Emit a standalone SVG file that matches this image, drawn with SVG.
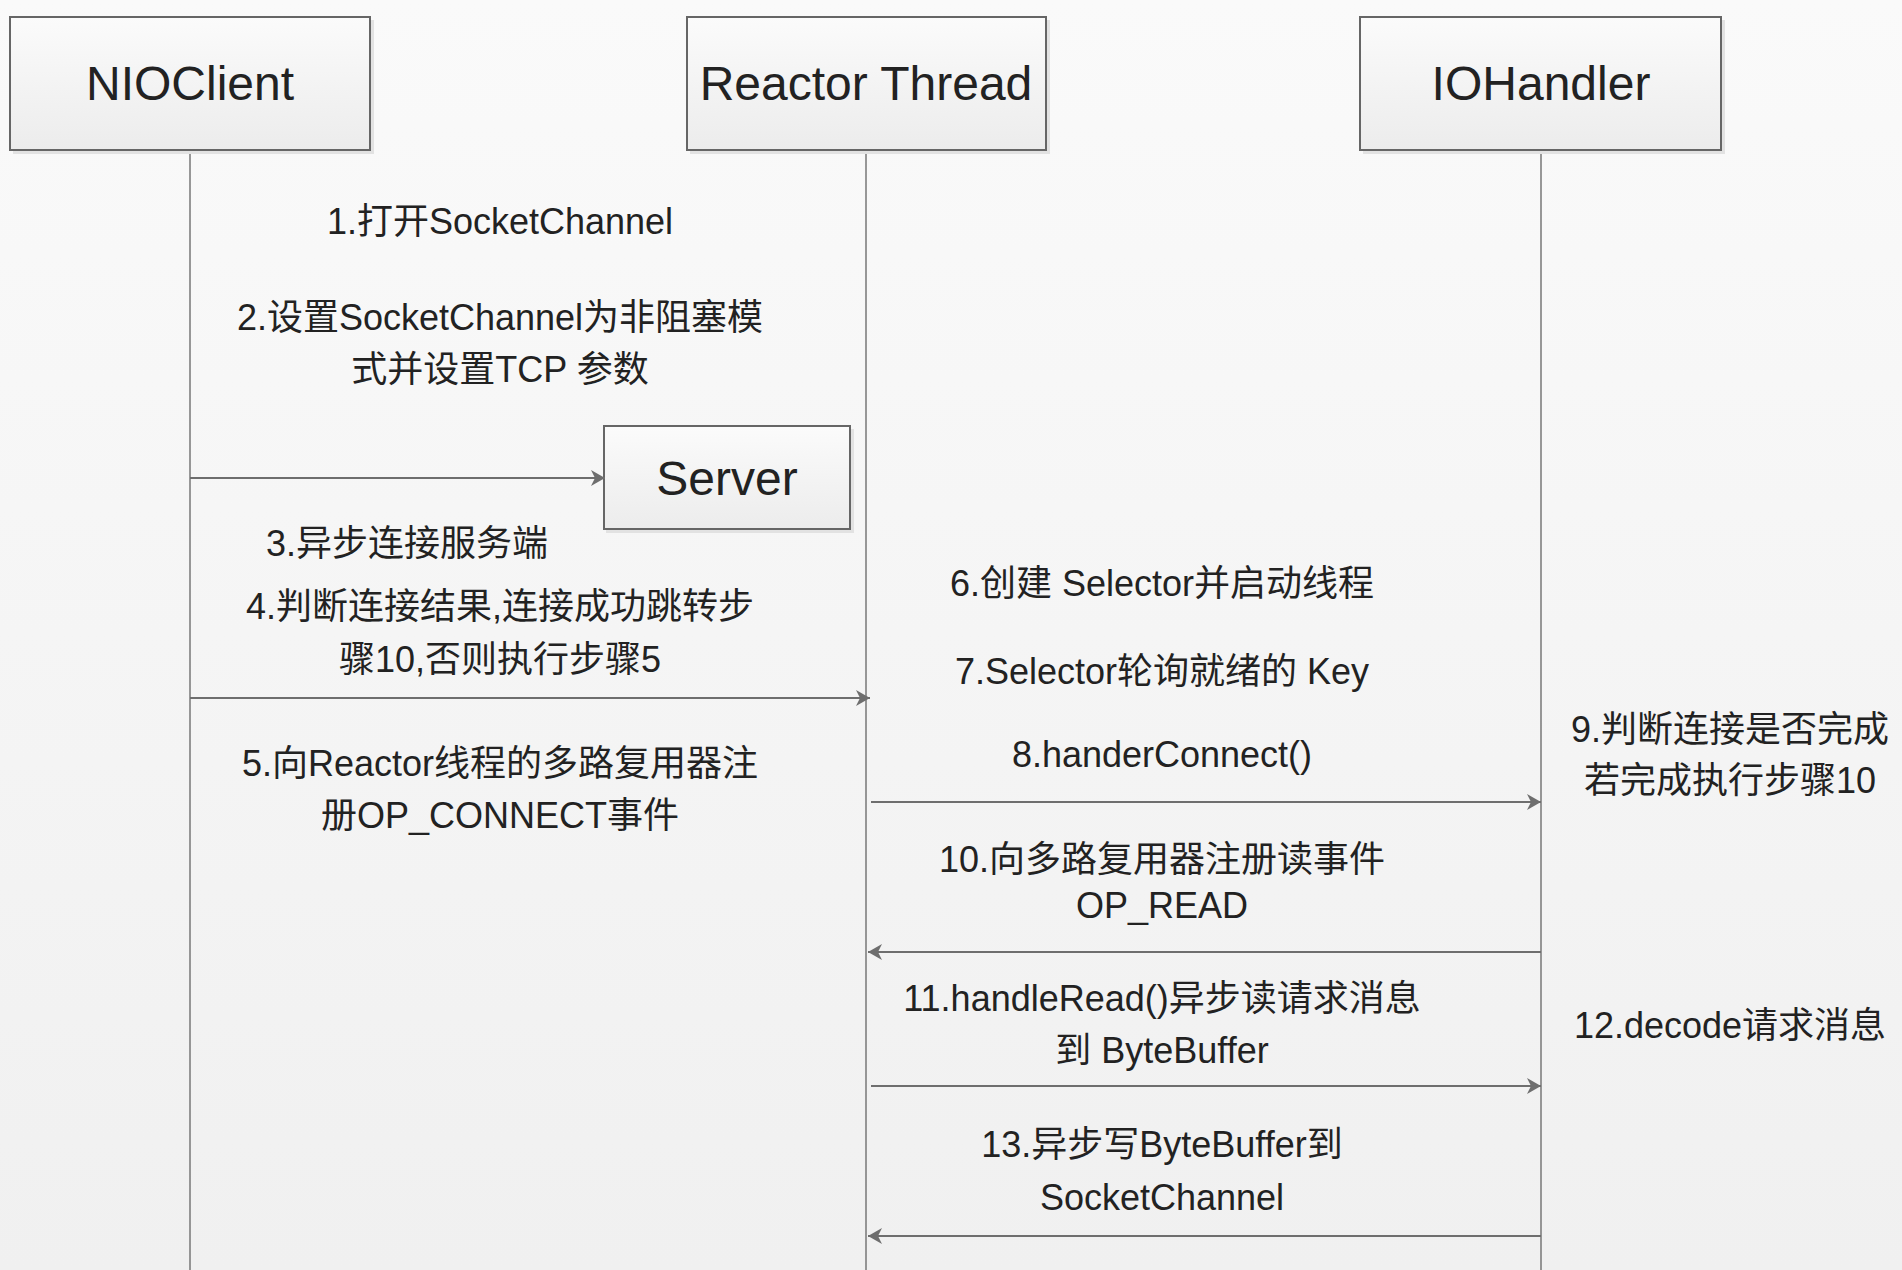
<svg xmlns="http://www.w3.org/2000/svg" width="1902" height="1270" viewBox="0 0 1902 1270">
<defs>
<linearGradient id="bg" x1="0" y1="0" x2="0" y2="1">
<stop offset="0" stop-color="#fafafa"/>
<stop offset="1" stop-color="#f0f0f0"/>
</linearGradient>
<linearGradient id="boxfill" x1="0" y1="0" x2="0" y2="1">
<stop offset="0" stop-color="#fbfbfb"/>
<stop offset="1" stop-color="#ececec"/>
</linearGradient>
<marker id="arr" markerUnits="userSpaceOnUse" markerWidth="16" markerHeight="18" refX="14" refY="9" orient="auto">
<path d="M0,1 L14,9 L0,17 L4,9 Z" fill="#6e6e6e"/>
</marker>
<style>
.box{fill:url(#boxfill);stroke:#666;stroke-width:2}
.shadow{fill:#e2e2e2}
.life{stroke:#777;stroke-width:1.5;fill:none}
.msg{stroke:#6e6e6e;stroke-width:2.2;fill:none;marker-end:url(#arr)}
.hd{font-family:"Liberation Sans",Arial,sans-serif;font-size:48px;fill:#222;text-anchor:middle}
.lb{font-family:"Liberation Sans",Arial,"Noto Sans CJK SC",sans-serif;font-size:36px;fill:#222;text-anchor:middle}
.lbl{font-family:"Liberation Sans",Arial,"Noto Sans CJK SC",sans-serif;font-size:36px;fill:#222;text-anchor:start}
</style>
</defs>
<rect x="0" y="0" width="1902" height="1270" fill="url(#bg)"/>

<g id="lifelines">
<line class="life" x1="190" y1="150" x2="190" y2="1270"/>
<line class="life" x1="866" y1="150" x2="866" y2="1270"/>
<line class="life" x1="1541" y1="150" x2="1541" y2="1270"/>
</g>

<g id="node-nioclient">
<rect class="shadow" x="13" y="20" width="361" height="134"/>
<rect class="box" x="10" y="17" width="360" height="133"/>
<text class="hd" x="190" y="100">NIOClient</text>
</g>
<g id="node-reactor">
<rect class="shadow" x="690" y="20" width="360" height="134"/>
<rect class="box" x="687" y="17" width="359" height="133"/>
<text class="hd" x="866" y="100">Reactor Thread</text>
</g>
<g id="node-iohandler">
<rect class="shadow" x="1363" y="20" width="362" height="134"/>
<rect class="box" x="1360" y="17" width="361" height="133"/>
<text class="hd" x="1541" y="100">IOHandler</text>
</g>
<g id="node-server">
<rect class="shadow" x="606" y="429" width="248" height="104"/>
<rect class="box" x="604" y="426" width="246" height="103"/>
<text class="hd" x="727" y="495">Server</text>
</g>

<g id="connectors">
<line class="msg" x1="190" y1="478" x2="605" y2="478"/>
<line class="msg" x1="190" y1="698" x2="870" y2="698"/>
<line class="msg" x1="871" y1="802" x2="1541" y2="802"/>
<line class="msg" x1="1541" y1="952" x2="868" y2="952"/>
<line class="msg" x1="871" y1="1086" x2="1541" y2="1086"/>
<line class="msg" x1="1541" y1="1236" x2="868" y2="1236"/>
</g>

<g id="labels">
<text class="lb" x="500" y="234">1.打开SocketChannel</text>
<text class="lb" x="500" y="330">2.设置SocketChannel为非阻塞模</text>
<text class="lb" x="500" y="382">式并设置TCP 参数</text>
<text class="lbl" x="266" y="556">3.异步连接服务端</text>
<text class="lb" x="500" y="619">4.判断连接结果,连接成功跳转步</text>
<text class="lb" x="500" y="672">骤10,否则执行步骤5</text>
<text class="lb" x="500" y="776">5.向Reactor线程的多路复用器注</text>
<text class="lb" x="500" y="828">册OP_CONNECT事件</text>
<text class="lb" x="1162" y="596">6.创建 Selector并启动线程</text>
<text class="lb" x="1162" y="684">7.Selector轮询就绪的 Key</text>
<text class="lb" x="1162" y="767">8.handerConnect()</text>
<text class="lb" x="1730" y="742">9.判断连接是否完成</text>
<text class="lb" x="1730" y="793">若完成执行步骤10</text>
<text class="lb" x="1162" y="872">10.向多路复用器注册读事件</text>
<text class="lb" x="1162" y="918">OP_READ</text>
<text class="lb" x="1162" y="1011">11.handleRead()异步读请求消息</text>
<text class="lb" x="1162" y="1063">到 ByteBuffer</text>
<text class="lb" x="1730" y="1038">12.decode请求消息</text>
<text class="lb" x="1162" y="1157">13.异步写ByteBuffer到</text>
<text class="lb" x="1162" y="1210">SocketChannel</text>
</g>
</svg>
